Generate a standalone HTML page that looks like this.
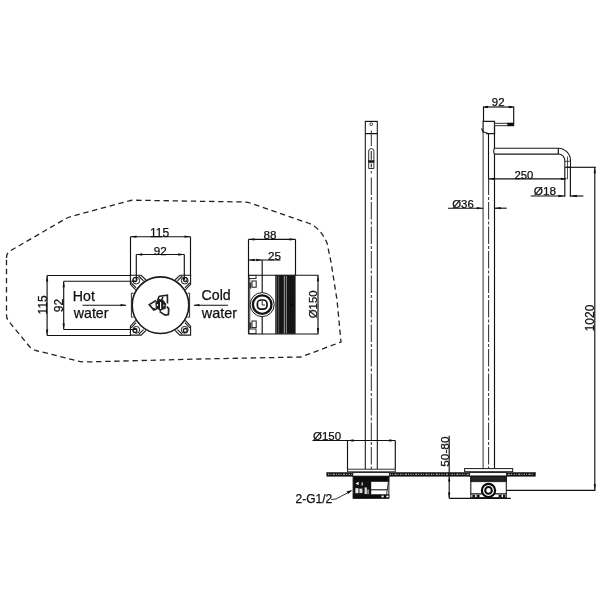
<!DOCTYPE html>
<html><head><meta charset="utf-8"><title>Dimensions</title>
<style>
html,body{margin:0;padding:0;background:#fff;}
body{width:600px;height:600px;overflow:hidden;}
svg{display:block;will-change:transform;}
svg text{font-family:"Liberation Sans",sans-serif;fill:#111;stroke:#111;stroke-width:0.25px;}
</style></head><body>
<svg width="600" height="600" viewBox="0 0 600 600">
<rect width="600" height="600" fill="#fff"/>
<path d="M6.5,258 Q6.5,253 10,251 L66,218.5 Q68,217.3 71,216.5 L129,200.8 Q131,200.2 134,200.2 L244,202 Q247,202 250,203 L308,223 Q320,227 327,243 L331,262 L337,300 L341,342 L301,357 L200,359 L85,362 Q81,362 78,361 L36,350.5 Q32,349.5 29,346 L8.5,321 Q6.5,318.5 6.5,315 Z" fill="none" stroke="#222" stroke-width="1.3" stroke-dasharray="5.4 3.7"/>
<path d="M146.0,280.0 L141.1,275.3 L130.4,275.3 L130.4,284.2 L135.7,290.0" fill="none" stroke="#1a1a1a" stroke-width="1.1" />
<path d="M143.5,280.8 L138.7,276.0 M136.1,287.8 L131.1,282.6" fill="none" stroke="#1a1a1a" stroke-width="1.1" />
<circle cx="136.3" cy="280.6" r="3.4" fill="none" stroke="#1a1a1a" stroke-width="1.0"/>
<circle cx="135.0" cy="279.6" r="1.9" fill="#fff" stroke="#1a1a1a" stroke-width="1.3"/>
<path d="M146.0,330.4 L141.1,335.1 L130.4,335.1 L130.4,326.2 L135.7,320.4" fill="none" stroke="#1a1a1a" stroke-width="1.1" />
<path d="M143.5,329.6 L138.7,334.4 M136.1,322.6 L131.1,327.8" fill="none" stroke="#1a1a1a" stroke-width="1.1" />
<circle cx="136.3" cy="329.8" r="3.4" fill="none" stroke="#1a1a1a" stroke-width="1.0"/>
<circle cx="135.0" cy="330.40000000000003" r="1.9" fill="#fff" stroke="#1a1a1a" stroke-width="1.3"/>
<path d="M175.0,280.0 L179.9,275.3 L190.6,275.3 L190.6,284.2 L185.3,290.0" fill="none" stroke="#1a1a1a" stroke-width="1.1" />
<path d="M177.5,280.8 L182.3,276.0 M184.9,287.8 L189.9,282.6" fill="none" stroke="#1a1a1a" stroke-width="1.1" />
<circle cx="184.7" cy="280.6" r="3.4" fill="none" stroke="#1a1a1a" stroke-width="1.0"/>
<circle cx="185.29999999999998" cy="279.6" r="1.9" fill="#fff" stroke="#1a1a1a" stroke-width="1.3"/>
<path d="M175.0,330.4 L179.9,335.1 L190.6,335.1 L190.6,326.2 L185.3,320.4" fill="none" stroke="#1a1a1a" stroke-width="1.1" />
<path d="M177.5,329.6 L182.3,334.4 M184.9,322.6 L189.9,327.8" fill="none" stroke="#1a1a1a" stroke-width="1.1" />
<circle cx="184.7" cy="329.8" r="3.4" fill="none" stroke="#1a1a1a" stroke-width="1.0"/>
<circle cx="185.29999999999998" cy="330.40000000000003" r="1.9" fill="#fff" stroke="#1a1a1a" stroke-width="1.3"/>
<path d="M133.5,293.2 L131.4,293.2 L131.4,317.2 L133.5,317.2" fill="none" stroke="#1a1a1a" stroke-width="0.9" />
<path d="M187.5,293.2 L189.6,293.2 L189.6,317.2 L187.5,317.2" fill="none" stroke="#1a1a1a" stroke-width="0.9" />
<circle cx="160.5" cy="305.2" r="28.3" fill="#fff" stroke="#1a1a1a" stroke-width="1.6"/>
<path d="M158.8,297 L159.6,296.3 L167.4,295.2 L167.5,303.6 M159,296.8 L157.8,299.6 L161.7,300.3 L162.8,297" fill="none" stroke="#222" stroke-width="1.6" />
<path d="M156,300.6 L149.3,304.6 L153.8,310 L157,308.8 M153.7,310 L154.2,308" fill="none" stroke="#222" stroke-width="1.7" />
<path d="M159.7,311.6 L165.2,315.2 L168.4,314.6 L168.7,308.6 L166.8,306.6 M159.8,311.4 L160.8,309.4" fill="none" stroke="#222" stroke-width="1.7" />
<path d="M157.2,300.6 L163.4,300.6 L165.8,304 L165.2,308.6 L160.2,310 L156.2,308 L155.8,303 Z" fill="#1a1a1a" stroke="#1a1a1a" stroke-width="0.8" />
<line x1="160.6" y1="302" x2="160.6" y2="309" stroke="#fff" stroke-width="1.15" />
<rect x="156.8" y="304" width="1.3" height="2" fill="#ddd" stroke="#1a1a1a" stroke-width="0" />
<rect x="163.2" y="304.5" width="1.2" height="2" fill="#ccc" stroke="#1a1a1a" stroke-width="0" />
<line x1="130.5" y1="236.7" x2="130.5" y2="276" stroke="#111" stroke-width="1.15" />
<line x1="190.5" y1="236.7" x2="190.5" y2="276" stroke="#111" stroke-width="1.15" />
<line x1="130.5" y1="236.7" x2="190.5" y2="236.7" stroke="#111" stroke-width="1.15" />
<polygon points="130.5,236.7 136.5,235.54999999999998 136.5,237.85" fill="#111"/>
<polygon points="190.5,236.7 184.5,235.54999999999998 184.5,237.85" fill="#111"/>
<text x="159.6" y="236.5" font-size="12.0" text-anchor="middle" >115</text>
<line x1="136.3" y1="254.5" x2="136.3" y2="280" stroke="#111" stroke-width="1.15" />
<line x1="184.3" y1="254.5" x2="184.3" y2="280" stroke="#111" stroke-width="1.15" />
<line x1="136.3" y1="254.5" x2="184.3" y2="254.5" stroke="#111" stroke-width="1.15" />
<polygon points="136.3,254.5 142.3,253.35 142.3,255.65" fill="#111"/>
<polygon points="184.3,254.5 178.3,253.35 178.3,255.65" fill="#111"/>
<text x="160.3" y="254.6" font-size="11.7" text-anchor="middle" >92</text>
<line x1="47.1" y1="275.5" x2="131" y2="275.5" stroke="#111" stroke-width="1.15" />
<line x1="47.1" y1="335.5" x2="131" y2="335.5" stroke="#111" stroke-width="1.15" />
<line x1="47.1" y1="275.5" x2="47.1" y2="335.5" stroke="#111" stroke-width="1.15" />
<polygon points="47.1,275.5 45.95,281.5 48.25,281.5" fill="#111"/>
<polygon points="47.1,335.5 45.95,329.5 48.25,329.5" fill="#111"/>
<text x="46.7" y="304.8" font-size="12.0" text-anchor="middle" transform="rotate(-90 46.7 304.8)" >115</text>
<line x1="63.7" y1="281.2" x2="136" y2="281.2" stroke="#111" stroke-width="1.15" />
<line x1="63.7" y1="329.5" x2="136" y2="329.5" stroke="#111" stroke-width="1.15" />
<line x1="63.7" y1="281.2" x2="63.7" y2="329.5" stroke="#111" stroke-width="1.15" />
<polygon points="63.7,281.2 62.550000000000004,287.2 64.85000000000001,287.2" fill="#111"/>
<polygon points="63.7,329.5 62.550000000000004,323.5 64.85000000000001,323.5" fill="#111"/>
<text x="63.3" y="305.6" font-size="12.0" text-anchor="middle" transform="rotate(-90 63.3 305.6)" >92</text>
<text x="72.8" y="301" font-size="14.2" text-anchor="start" >Hot</text>
<text x="73.8" y="318.3" font-size="14.2" text-anchor="start" >water</text>
<line x1="82.5" y1="305.2" x2="126" y2="305.2" stroke="#111" stroke-width="1.15" />
<polygon points="126.5,305.2 120.5,304.05 120.5,306.34999999999997" fill="#111"/>
<text x="201.5" y="300.3" font-size="14.2" text-anchor="start" >Cold</text>
<text x="201.8" y="317.8" font-size="14.4" text-anchor="start" >water</text>
<line x1="194" y1="305.2" x2="228" y2="305.2" stroke="#111" stroke-width="1.15" />
<polygon points="193.5,305.2 199.5,304.05 199.5,306.34999999999997" fill="#111"/>
<line x1="248.5" y1="239.4" x2="248.5" y2="334" stroke="#111" stroke-width="1.15" />
<line x1="295.5" y1="239.4" x2="295.5" y2="275.2" stroke="#111" stroke-width="1.15" />
<line x1="248.5" y1="239.4" x2="295.5" y2="239.4" stroke="#111" stroke-width="1.15" />
<polygon points="248.5,239.4 254.5,238.25 254.5,240.55" fill="#111"/>
<polygon points="295.5,239.4 289.5,238.25 289.5,240.55" fill="#111"/>
<text x="270.1" y="238.9" font-size="11.7" text-anchor="middle" >88</text>
<line x1="248.5" y1="260" x2="280.5" y2="260" stroke="#111" stroke-width="1.15" />
<polygon points="248.7,260 254.7,258.85 254.7,261.15" fill="#111"/>
<polygon points="262.2,260 256.2,258.85 256.2,261.15" fill="#111"/>
<text x="268" y="260" font-size="11.7" text-anchor="start" >25</text>
<line x1="248.5" y1="275.2" x2="318.5" y2="275.2" stroke="#111" stroke-width="1.15" />
<line x1="248.5" y1="334" x2="318.5" y2="334" stroke="#111" stroke-width="1.15" />
<line x1="249.5" y1="278" x2="249.5" y2="333" stroke="#666" stroke-width="1.6" />
<rect x="249" y="275.4" width="7" height="3.2" fill="#fff" stroke="#1a1a1a" stroke-width="0.9" />
<rect x="252" y="281" width="4.2" height="6.2" fill="#fff" stroke="#1a1a1a" stroke-width="1" />
<rect x="249.3" y="282.5" width="2" height="6" fill="#333" stroke="#1a1a1a" stroke-width="0" />
<rect x="252" y="321" width="4.2" height="6.6" fill="#fff" stroke="#1a1a1a" stroke-width="1" />
<rect x="249" y="329" width="7" height="4.6" fill="#fff" stroke="#1a1a1a" stroke-width="0.9" />
<rect x="249.3" y="322.5" width="2" height="6" fill="#333" stroke="#1a1a1a" stroke-width="0" />
<rect x="275.6" y="275.2" width="19.6" height="58.5" fill="#151515" stroke="#1a1a1a" stroke-width="0.6" />
<line x1="278.6" y1="276" x2="278.6" y2="333.5" stroke="#555" stroke-width="1.15" />
<line x1="284.3" y1="276" x2="284.3" y2="333.5" stroke="#ccc" stroke-width="0.8" />
<line x1="286.4" y1="276" x2="286.4" y2="333.5" stroke="#aaa" stroke-width="0.8" />
<line x1="276.4" y1="276" x2="276.4" y2="333.5" stroke="#999" stroke-width="0.5" />
<rect x="290.6" y="303.6" width="2" height="2" fill="#000" stroke="#1a1a1a" stroke-width="0" />
<line x1="262.2" y1="260" x2="262.2" y2="334" stroke="#111" stroke-width="1.15" />
<circle cx="262.2" cy="304.6" r="12.0" fill="#fff" stroke="#1a1a1a" stroke-width="1"/>
<circle cx="262.2" cy="304.6" r="9.3" fill="none" stroke="#111" stroke-width="2.3"/>
<rect x="257.4" y="300" width="9.6" height="9.2" fill="#fff" stroke="#111" stroke-width="1.7" rx="3.6"/>
<path d="M262.2,300.8 L262.2,305 L265,305" fill="none" stroke="#1a1a1a" stroke-width="0.9" />
<line x1="318" y1="275.2" x2="318" y2="334" stroke="#111" stroke-width="1.15" />
<polygon points="318,275.2 316.85,281.2 319.15,281.2" fill="#111"/>
<polygon points="318,334 316.85,328 319.15,328" fill="#111"/>
<text x="317.3" y="304.3" font-size="11.4" text-anchor="middle" transform="rotate(-90 317.3 304.3)" >Ø150</text>
<line x1="365.3" y1="121.4" x2="365.3" y2="469" stroke="#111" stroke-width="1.05" />
<line x1="377.3" y1="121.4" x2="377.3" y2="469" stroke="#111" stroke-width="1.05" />
<line x1="364.8" y1="121.4" x2="377.8" y2="121.4" stroke="#111" stroke-width="1.15" />
<line x1="365.3" y1="133.6" x2="377.3" y2="133.6" stroke="#111" stroke-width="1.25" />
<circle cx="371.2" cy="124.2" r="1.4" fill="none" stroke="#1a1a1a" stroke-width="0.8"/>
<line x1="371.3" y1="130.5" x2="371.3" y2="146" stroke="#333" stroke-width="1" />
<line x1="371.3" y1="171" x2="371.3" y2="173.5" stroke="#333" stroke-width="1" />
<line x1="371.3" y1="177.5" x2="371.3" y2="472" stroke="#333" stroke-width="1.05" stroke-dasharray="17.5 2 3 2"/>
<path d="M368.7,168.5 L368.7,151 Q368.7,148.6 371.3,148.6 Q373.9,148.6 373.9,151 L373.9,168.5 Z" fill="#fff" stroke="#1a1a1a" stroke-width="0.9" />
<rect x="368.7" y="160.6" width="5.2" height="1.8" fill="#111" stroke="#1a1a1a" stroke-width="0.6" />
<line x1="371.3" y1="151" x2="371.3" y2="159.8" stroke="#333" stroke-width="1.15" />
<line x1="371.3" y1="163.6" x2="371.3" y2="167.5" stroke="#333" stroke-width="1.15" />
<line x1="312.5" y1="440.5" x2="395.3" y2="440.5" stroke="#111" stroke-width="1.15" />
<polygon points="347.5,440.5 353.5,439.35 353.5,441.65" fill="#111"/>
<polygon points="395.3,440.5 389.3,439.35 389.3,441.65" fill="#111"/>
<text x="313" y="439.6" font-size="11.5" text-anchor="start" >Ø150</text>
<line x1="347.5" y1="440.5" x2="347.5" y2="469" stroke="#111" stroke-width="1.15" />
<line x1="395.3" y1="440.5" x2="395.3" y2="469" stroke="#111" stroke-width="1.15" />
<rect x="347.5" y="469.2" width="47.8" height="2.6" fill="#fff" stroke="#1a1a1a" stroke-width="0.9" />
<rect x="326.8" y="472.6" width="208.5" height="3.6" fill="#111" stroke="#1a1a1a" stroke-width="0.6" />
<line x1="328" y1="474.4" x2="534" y2="474.4" stroke="#aaa" stroke-width="1.2" stroke-dasharray="1.3 1.2 0.8 1.5 2 1.1 1 1.4"/>
<rect x="352.8" y="472.6" width="36.7" height="3.6" fill="#fff" stroke="#1a1a1a" stroke-width="0.9" />
<rect x="469.6" y="472.6" width="37" height="3.6" fill="#fff" stroke="#1a1a1a" stroke-width="0.9" />
<rect x="353.2" y="476.4" width="35.7" height="21.8" fill="#fff" stroke="#1a1a1a" stroke-width="1" />
<rect x="353.2" y="476.4" width="35.7" height="5.2" fill="#0a0a0a" stroke="#1a1a1a" stroke-width="0.6" />
<rect x="353.2" y="481" width="17" height="17" fill="#111" stroke="#1a1a1a" stroke-width="0.6" />
<rect x="353.2" y="494.6" width="35.7" height="3.6" fill="#0a0a0a" stroke="#1a1a1a" stroke-width="0.6" />
<polygon points="355.6,483.4 358.6,481.8 358.6,485.2" fill="#fff"/>
<rect x="355.4" y="488.2" width="3" height="5" fill="#eee" stroke="#1a1a1a" stroke-width="0" />
<rect x="359.4" y="488.6" width="3" height="4.4" fill="#ddd" stroke="#1a1a1a" stroke-width="0" />
<rect x="364.6" y="487.4" width="2.2" height="6.6" fill="#ddd" stroke="#1a1a1a" stroke-width="0" />
<rect x="361.5" y="482.5" width="1.5" height="3" fill="#bbb" stroke="#1a1a1a" stroke-width="0" />
<rect x="367.3" y="489.5" width="1.6" height="4.6" fill="#999" stroke="#1a1a1a" stroke-width="0" />
<line x1="370.4" y1="489.8" x2="387.4" y2="489.8" stroke="#111" stroke-width="1.1" />
<line x1="370.6" y1="481.6" x2="370.6" y2="494.6" stroke="#111" stroke-width="1.2" />
<path d="M388.4,481.6 L386.6,494.6" fill="none" stroke="#1a1a1a" stroke-width="0.9" />
<rect x="381.5" y="495.6" width="2.2" height="1.7" fill="#fff" stroke="#1a1a1a" stroke-width="0" />
<rect x="386.3" y="495.6" width="2.2" height="1.7" fill="#fff" stroke="#1a1a1a" stroke-width="0" />
<text x="295.5" y="502.5" font-size="12.0" text-anchor="start" >2-G1/2</text>
<path d="M331,499.5 L336,499 L351,491" fill="none" stroke="#1a1a1a" stroke-width="0.9" />
<polygon points="352.6,490 346.6,491.2 348.2,494" fill="#111"/>
<line x1="449.2" y1="435.8" x2="449.2" y2="498.4" stroke="#111" stroke-width="1.15" />
<polygon points="449.2,476.6 448.05,481.6 450.34999999999997,481.6" fill="#111"/>
<polygon points="449.2,498.4 448.05,492.4 450.34999999999997,492.4" fill="#111"/>
<text x="449.4" y="451.6" font-size="11.8" text-anchor="middle" transform="rotate(-90 449.4 451.6)" >50-80</text>
<line x1="449.2" y1="498.3" x2="510.8" y2="498.3" stroke="#111" stroke-width="1.15" />
<line x1="483.1" y1="133" x2="483.1" y2="468.3" stroke="#333" stroke-width="1" />
<line x1="494.5" y1="126" x2="494.5" y2="468.3" stroke="#111" stroke-width="1.15" />
<line x1="488.5" y1="133" x2="488.5" y2="178.7" stroke="#111" stroke-width="1.1" />
<line x1="488.6" y1="177.5" x2="488.6" y2="472" stroke="#333" stroke-width="1.05" stroke-dasharray="17.5 2 3 2"/>
<path d="M483.1,133 L483.1,121.4 L494.5,121.4 L494.5,133.6 L486.1,133.6" fill="none" stroke="#1a1a1a" stroke-width="1.2" />
<path d="M481.8,128.3 Q481.8,131.5 485.1,132.6 L488.1,133.6" fill="none" stroke="#1a1a1a" stroke-width="1.1" />
<rect x="494.6" y="123.3" width="19" height="2.4" fill="#fff" stroke="#1a1a1a" stroke-width="0.9" />
<rect x="507.5" y="123" width="6.4" height="2.9" fill="#0a0a0a" stroke="#1a1a1a" stroke-width="0.4" />
<line x1="483.5" y1="106.5" x2="483.5" y2="121" stroke="#111" stroke-width="1.15" />
<line x1="513.7" y1="106.5" x2="513.7" y2="124" stroke="#111" stroke-width="1.15" />
<line x1="483.5" y1="107" x2="513.7" y2="107" stroke="#111" stroke-width="1.15" />
<polygon points="483.5,107 488.0,105.85 488.0,108.15" fill="#111"/>
<polygon points="513.7,107 509.20000000000005,105.85 509.20000000000005,108.15" fill="#111"/>
<rect x="485" y="106.2" width="3.2" height="1.6" fill="#111"/><rect x="508.5" y="106.2" width="3.2" height="1.6" fill="#111"/>
<text x="498.2" y="106.3" font-size="11.4" text-anchor="middle" >92</text>
<path d="M494.4,148.3 L558.3,148.3 A12.3,12.3 0 0 1 570.5,160.6 L570.5,167.3 L564.8,167.3 L564.8,160.4 A6.3,6.3 0 0 0 558.3,154.1 L494.4,154.1 Q493,151.2 494.4,148.3 Z" fill="#fff" stroke="#1a1a1a" stroke-width="1.05" />
<line x1="558.3" y1="148.3" x2="558.3" y2="154.1" stroke="#111" stroke-width="1.15" />
<line x1="564.8" y1="161.3" x2="570.5" y2="161.3" stroke="#111" stroke-width="0.8" />
<line x1="567.5" y1="156.5" x2="567.5" y2="179.3" stroke="#222" stroke-width="0.8" />
<line x1="488.5" y1="178.8" x2="566" y2="178.8" stroke="#111" stroke-width="1.15" />
<polygon points="488.6,178.8 494.90000000000003,177.65 494.90000000000003,179.95000000000002" fill="#111"/>
<polygon points="567.4,178.8 560.9,177.65 560.9,179.95000000000002" fill="#111"/>
<text x="514.5" y="178.7" font-size="11.3" text-anchor="start" >250</text>
<line x1="448" y1="208.2" x2="483.3" y2="208.2" stroke="#111" stroke-width="1.15" />
<polygon points="483.1,208.2 476.8,207.04999999999998 476.8,209.35" fill="#111"/>
<polygon points="494.5,208.2 500.8,207.04999999999998 500.8,209.35" fill="#111"/>
<line x1="494.6" y1="208.2" x2="506.7" y2="208.2" stroke="#111" stroke-width="1.15" />
<text x="452.2" y="207.7" font-size="11.4" text-anchor="start" >Ø36</text>
<line x1="530.7" y1="196" x2="564.8" y2="196" stroke="#111" stroke-width="1.15" />
<polygon points="564.8,196 558.3,194.85 558.3,197.15" fill="#111"/>
<polygon points="570.4,196 576.9,194.85 576.9,197.15" fill="#111"/>
<line x1="570.6" y1="196" x2="583.3" y2="196" stroke="#111" stroke-width="1.15" />
<text x="533.8" y="195.3" font-size="11.8" text-anchor="start" >Ø18</text>
<line x1="564.8" y1="167.3" x2="564.8" y2="196.7" stroke="#111" stroke-width="1.15" />
<line x1="570.4" y1="167.3" x2="570.4" y2="196.7" stroke="#111" stroke-width="1.15" />
<line x1="566" y1="167.3" x2="595.8" y2="167.3" stroke="#111" stroke-width="1.15" />
<line x1="594.8" y1="167.3" x2="594.8" y2="490.3" stroke="#111" stroke-width="1.15" />
<polygon points="594.8,167.3 593.65,173.3 595.9499999999999,173.3" fill="#111"/>
<polygon points="594.8,490.3 593.65,484.3 595.9499999999999,484.3" fill="#111"/>
<text x="594.4" y="318" font-size="12.0" text-anchor="middle" transform="rotate(-90 594.4 318)" >1020</text>
<line x1="506.3" y1="490.3" x2="595.4" y2="490.3" stroke="#111" stroke-width="1.15" />
<rect x="464.6" y="468.6" width="48.1" height="3.1" fill="#fff" stroke="#1a1a1a" stroke-width="1" />
<rect x="470.8" y="476.2" width="35.5" height="17.8" fill="#fff" stroke="#1a1a1a" stroke-width="1.1" />
<rect x="470.8" y="476.2" width="35.5" height="5.6" fill="#0a0a0a" stroke="#1a1a1a" stroke-width="0.6" />
<line x1="471.4" y1="478.1" x2="505.8" y2="478.1" stroke="#888" stroke-width="0.4" />
<line x1="471.4" y1="480" x2="505.8" y2="480" stroke="#888" stroke-width="0.4" />
<rect x="470.8" y="494" width="35.5" height="3.6" fill="#fff" stroke="#1a1a1a" stroke-width="1" />
<rect x="472.4" y="494.8" width="2.6" height="2.6" fill="#111" stroke="#1a1a1a" stroke-width="0" />
<rect x="476.6" y="494.8" width="3" height="2.6" fill="#111" stroke="#1a1a1a" stroke-width="0" />
<rect x="498.6" y="494.8" width="3" height="2.6" fill="#111" stroke="#1a1a1a" stroke-width="0" />
<rect x="503" y="494.8" width="2.4" height="2.6" fill="#111" stroke="#1a1a1a" stroke-width="0" />
<circle cx="488.5" cy="490.4" r="6.6" fill="#fff" stroke="#0a0a0a" stroke-width="2.2"/>
<circle cx="488.5" cy="490.4" r="3.3" fill="none" stroke="#0a0a0a" stroke-width="2"/>
</svg>
</body></html>
